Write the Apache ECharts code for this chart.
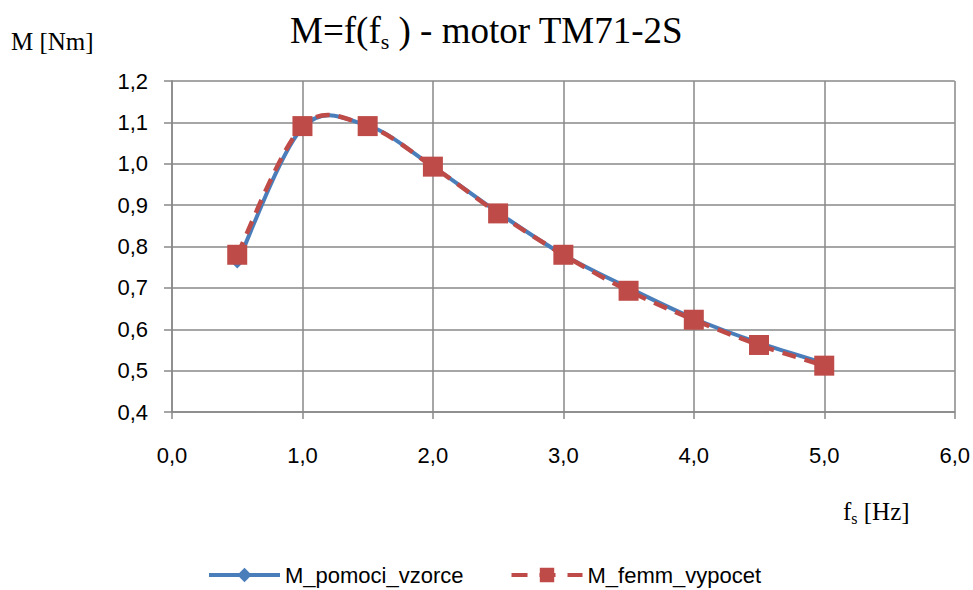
<!DOCTYPE html>
<html>
<head>
<meta charset="utf-8">
<script src="https://cdn.jsdelivr.net/npm/echarts@6/dist/echarts.min.js"></script>
<style>
  html, body { margin: 0; padding: 0; background: #fff; }
  #chart { width: 973px; height: 590px; }
</style>
</head>
<body>
<div id="chart"></div>
<script>
// Supply frequency f_s [Hz]
const freq = [0.5, 1.0, 1.5, 2.0, 2.5, 3.0, 3.5, 4.0, 4.5, 5.0];
// Torque from the formula [Nm]
const mFormula = [0.760, 1.087, 1.092, 0.993, 0.882, 0.780, 0.700, 0.626, 0.567, 0.518];
// Torque computed in FEMM [Nm]
const mFemm = [0.780, 1.091, 1.091, 0.993, 0.880, 0.780, 0.693, 0.623, 0.562, 0.512];

const seriesNames = ['M_pomoci_vzorce', 'M_femm_vypocet'];
const colors = ['#4a7ebb', '#be4b48'];
const redDash = [14, 9];

const toPairs = (xs, ys) => xs.map((x, i) => [x, ys[i]]);
const comma = v => v.toFixed(1).replace('.', ',');

const labelFont = '"Liberation Sans", Arial, sans-serif';
const serif = '"Liberation Serif", "Times New Roman", serif';

// Smooth curve through the data points (cardinal spline, tension 1/6),
// built in pixel space from the axis scales.
function curveRenderer(ys, style) {
  return function (params, api) {
    if (params.dataIndex !== 0) return null;
    const p = freq.map((x, i) => api.coord([x, ys[i]]));
    let d = 'M' + p[0][0] + ' ' + p[0][1];
    for (let i = 0; i < p.length - 1; i++) {
      const p0 = p[Math.max(i - 1, 0)];
      const p1 = p[i];
      const p2 = p[i + 1];
      const p3 = p[Math.min(i + 2, p.length - 1)];
      const c1x = p1[0] + (p2[0] - p0[0]) / 6;
      const c1y = p1[1] + (p2[1] - p0[1]) / 6;
      const c2x = p2[0] - (p3[0] - p1[0]) / 6;
      const c2y = p2[1] - (p3[1] - p1[1]) / 6;
      d += ' C' + c1x + ' ' + c1y + ' ' + c2x + ' ' + c2y + ' ' + p2[0] + ' ' + p2[1];
    }
    return {
      type: 'path',
      shape: { pathData: d },
      style: Object.assign({ fill: null, lineCap: 'butt', lineJoin: 'round' }, style),
      silent: true
    };
  };
}

const chart = echarts.init(document.getElementById('chart'), null, { renderer: 'svg' });

chart.setOption({
  animation: false,
  backgroundColor: '#ffffff',
  title: {
    text: '{a|M=f(f}{s|s}{a| ) - motor TM71-2S}',
    left: 285,
    top: 3,
    textStyle: {
      rich: {
        a: { fontFamily: serif, fontSize: 37, fontWeight: 'normal', color: '#000', lineHeight: 44 },
        s: { fontFamily: serif, fontSize: 22, fontWeight: 'normal', color: '#000', lineHeight: 22, verticalAlign: 'bottom' }
      }
    }
  },
  graphic: [
    {
      type: 'text', left: 11, top: 29,
      style: { text: 'M [Nm]', font: '25px ' + serif, fill: '#000' }
    },
    {
      type: 'text', left: 843, top: 499,
      style: {
        text: '{a|f}{s|s}{a| [Hz]}',
        rich: {
          a: { fontFamily: serif, fontSize: 25, fill: '#000', lineHeight: 30 },
          s: { fontFamily: serif, fontSize: 16, fill: '#000', lineHeight: 16, verticalAlign: 'bottom' }
        }
      }
    }
  ],
  legend: {
    data: [
      {
        name: seriesNames[0],
        lineStyle: { color: colors[0], width: 4, opacity: 1, type: 'solid' }
      },
      {
        name: seriesNames[1],
        lineStyle: { color: colors[1], width: 4, opacity: 1, type: [16, 12] }
      }
    ],
    left: 207,
    top: 563,
    padding: 0,
    itemWidth: 71,
    itemHeight: 18,
    itemGap: 46,
    textStyle: { fontFamily: labelFont, fontSize: 22, color: '#000', lineHeight: 24 }
  },
  grid: { left: 172, right: 18, top: 81, bottom: 178 },
  xAxis: {
    type: 'value',
    min: 0, max: 6, interval: 1,
    axisLine: { show: true, onZero: false, lineStyle: { color: '#888', width: 1.5 } },
    axisTick: { show: true, length: 7, lineStyle: { color: '#888', width: 1.5 } },
    splitLine: { show: true, lineStyle: { color: '#888', width: 1.5 } },
    axisLabel: { formatter: comma, fontFamily: labelFont, fontSize: 22, color: '#000', margin: 32 }
  },
  yAxis: {
    type: 'value',
    min: 0.4, max: 1.2, interval: 0.1,
    axisLine: { show: true, lineStyle: { color: '#888', width: 1.5 } },
    axisTick: { show: true, length: 8, lineStyle: { color: '#888', width: 1.5 } },
    splitLine: { show: true, lineStyle: { color: '#888', width: 1.5 } },
    axisLabel: { formatter: comma, fontFamily: labelFont, fontSize: 22, color: '#000', margin: 24, padding: [6, 0, 0, 0] }
  },
  series: [
    {
      type: 'custom',
      renderItem: curveRenderer(mFormula, { stroke: colors[0], lineWidth: 4 }),
      data: [0],
      z: 1,
      tooltip: { show: false }
    },
    {
      name: seriesNames[0],
      type: 'line',
      data: toPairs(freq, mFormula),
      symbol: 'diamond',
      symbolSize: 11,
      showAllSymbol: true,
      itemStyle: { color: colors[0] },
      lineStyle: { color: colors[0], width: 4, opacity: 0 },
      z: 2
    },
    {
      type: 'custom',
      renderItem: curveRenderer(mFemm, { stroke: colors[1], lineWidth: 4.5, lineDash: redDash }),
      data: [0],
      z: 3,
      tooltip: { show: false }
    },
    {
      name: seriesNames[1],
      type: 'line',
      data: toPairs(freq, mFemm),
      symbol: 'rect',
      symbolSize: 20,
      showAllSymbol: true,
      itemStyle: { color: colors[1] },
      lineStyle: { color: colors[1], width: 4, opacity: 0, type: redDash },
      z: 4
    }
  ]
});
</script>
</body>
</html>
